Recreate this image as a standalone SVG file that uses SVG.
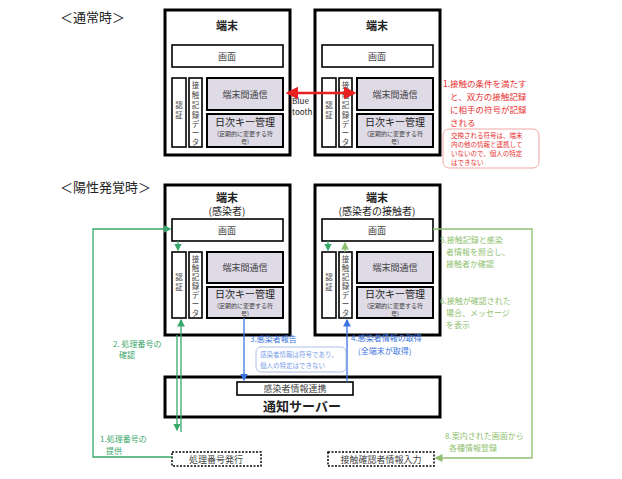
<svg xmlns="http://www.w3.org/2000/svg" width="622" height="479" viewBox="0 0 622 479">
<style>
text{font-family:"Noto Sans CJK JP","Noto Sans",sans-serif;fill:#222}
.term{fill:#fff;stroke:#000;stroke-width:3}
.in{fill:#fff;stroke:#000;stroke-width:1.6}
.gr{fill:#dedae6;stroke:#000;stroke-width:2}
.t9{font-size:9px;fill:#444}
.v{font-size:7.5px;fill:#444;text-anchor:middle}
.t7{font-size:6px;fill:#444}
.h{font-size:11px;font-weight:bold}
.hd{font-size:13px}
.red{fill:#e83030;font-size:8.5px}
.redS{fill:#e83030;font-size:6.5px}
.gl{fill:#3aa86a;font-size:8px}
.gr2{fill:#8fbf6f;font-size:8px}
.bl{fill:#3a74e0;font-size:8px}
.blS{fill:#7a9ee8;font-size:6.5px}
</style>
<defs>
<marker id="ag" markerWidth="6" markerHeight="6" refX="5" refY="3" orient="auto"><path d="M0,0L6,3L0,6z" fill="#3aa86a"/></marker>
<marker id="ag2" markerWidth="6" markerHeight="6" refX="5" refY="3" orient="auto"><path d="M0,0L6,3L0,6z" fill="#8fbf6f"/></marker>
<marker id="ab" markerWidth="6" markerHeight="6" refX="5" refY="3" orient="auto"><path d="M0,0L6,3L0,6z" fill="#3a74e0"/></marker>
<marker id="ar" markerWidth="5" markerHeight="5" refX="4" refY="2.5" orient="auto-start-reverse"><path d="M0,0L5,2.5L0,5z" fill="#e82020"/></marker>
</defs>
<text x="60" y="22" class="hd">＜通常時＞</text>
<text x="60" y="192" class="hd">＜陽性発覚時＞</text>

<g id="term1">
<rect x="165" y="10" width="125" height="145" class="term"/>
<text x="227" y="30" class="h" text-anchor="middle">端末</text>
<rect x="172" y="45" width="111" height="22" class="in"/><text x="227" y="60" class="t9" text-anchor="middle">画面</text>
<rect x="172" y="78" width="14" height="69" class="in"/><text x="179" y="108" class="v">認</text><text x="179" y="118" class="v">証</text>
<rect x="189" y="78" width="13" height="69" class="in"/><text x="195.5" y="88" class="v">接</text><text x="195.5" y="98" class="v">触</text><text x="195.5" y="108" class="v">記</text><text x="195.5" y="118" class="v">録</text><text x="195.5" y="127" class="v">デ</text><text x="195.5" y="136" class="v">ー</text><text x="195.5" y="145" class="v">タ</text>
<rect x="207" y="78" width="76" height="32" class="gr"/><text x="245" y="98" class="t9" text-anchor="middle">端末間通信</text>
<rect x="207" y="114" width="76" height="33" class="gr"/><text x="245" y="126" font-size="10" text-anchor="middle">日次キー管理</text><text x="245" y="136" class="t7" text-anchor="middle">(定期的に変更する符</text><text x="245" y="144" class="t7" text-anchor="middle">号)</text>
</g>
<g id="term2">
<rect x="315" y="10" width="125" height="145" class="term"/>
<text x="377" y="30" class="h" text-anchor="middle">端末</text>
<rect x="322" y="45" width="111" height="22" class="in"/><text x="377" y="60" class="t9" text-anchor="middle">画面</text>
<rect x="322" y="78" width="14" height="69" class="in"/><text x="329" y="108" class="v">認</text><text x="329" y="118" class="v">証</text>
<rect x="339" y="78" width="13" height="69" class="in"/><text x="345.5" y="88" class="v">接</text><text x="345.5" y="98" class="v">触</text><text x="345.5" y="108" class="v">記</text><text x="345.5" y="118" class="v">録</text><text x="345.5" y="127" class="v">デ</text><text x="345.5" y="136" class="v">ー</text><text x="345.5" y="145" class="v">タ</text>
<rect x="357" y="78" width="76" height="32" class="gr"/><text x="395" y="98" class="t9" text-anchor="middle">端末間通信</text>
<rect x="357" y="114" width="76" height="33" class="gr"/><text x="395" y="126" font-size="10" text-anchor="middle">日次キー管理</text><text x="395" y="136" class="t7" text-anchor="middle">(定期的に変更する符</text><text x="395" y="144" class="t7" text-anchor="middle">号)</text>
</g>
<g id="term3">
<rect x="165" y="185" width="125" height="150" class="term"/>
<text x="227" y="202" class="h" text-anchor="middle">端末</text>
<text x="227" y="215" font-size="10" text-anchor="middle">(感染者)</text>
<rect x="172" y="219" width="111" height="22" class="in"/><text x="227" y="234" class="t9" text-anchor="middle">画面</text>
<rect x="172" y="252" width="14" height="66" class="in"/><text x="179" y="280" class="v">認</text><text x="179" y="290" class="v">証</text>
<rect x="189" y="252" width="13" height="66" class="in"/><text x="195.5" y="262" class="v">接</text><text x="195.5" y="271" class="v">触</text><text x="195.5" y="280" class="v">記</text><text x="195.5" y="289" class="v">録</text><text x="195.5" y="298" class="v">デ</text><text x="195.5" y="307" class="v">ー</text><text x="195.5" y="316" class="v">タ</text>
<rect x="207" y="252" width="76" height="31" class="gr"/><text x="245" y="271" class="t9" text-anchor="middle">端末間通信</text>
<rect x="207" y="287" width="76" height="31" class="gr"/><text x="245" y="298" font-size="10" text-anchor="middle">日次キー管理</text><text x="245" y="308" class="t7" text-anchor="middle">(定期的に変更する符</text><text x="245" y="316" class="t7" text-anchor="middle">号)</text>
</g>
<g id="term4">
<rect x="315" y="185" width="125" height="150" class="term"/>
<text x="377" y="202" class="h" text-anchor="middle">端末</text>
<text x="377" y="215" font-size="10" text-anchor="middle">(感染者の接触者)</text>
<rect x="322" y="219" width="111" height="22" class="in"/><text x="377" y="234" class="t9" text-anchor="middle">画面</text>
<rect x="322" y="252" width="14" height="66" class="in"/><text x="329" y="280" class="v">認</text><text x="329" y="290" class="v">証</text>
<rect x="339" y="252" width="13" height="66" class="in"/><text x="345.5" y="262" class="v">接</text><text x="345.5" y="271" class="v">触</text><text x="345.5" y="280" class="v">記</text><text x="345.5" y="289" class="v">録</text><text x="345.5" y="298" class="v">デ</text><text x="345.5" y="307" class="v">ー</text><text x="345.5" y="316" class="v">タ</text>
<rect x="357" y="252" width="76" height="31" class="gr"/><text x="395" y="271" class="t9" text-anchor="middle">端末間通信</text>
<rect x="357" y="287" width="76" height="31" class="gr"/><text x="395" y="298" font-size="10" text-anchor="middle">日次キー管理</text><text x="395" y="308" class="t7" text-anchor="middle">(定期的に変更する符</text><text x="395" y="316" class="t7" text-anchor="middle">号)</text>
</g>
<g id="server">
<rect x="165" y="377" width="275" height="40" class="term"/>
<rect x="237" y="382" width="116" height="13" class="in"/><text x="295" y="392" class="t9" text-anchor="middle">感染者情報連携</text>
<text x="302" y="411" font-size="13" font-weight="bold" text-anchor="middle">通知サーバー</text>
</g>
<g id="issue"><rect x="172" y="452" width="89" height="14" fill="#fff" stroke="#000" stroke-width="1.5" stroke-dasharray="2,1.5"/><text x="216" y="463" class="t9" text-anchor="middle">処理番号発行</text></g>
<g id="input"><rect x="328" y="452" width="106" height="14" fill="#fff" stroke="#000" stroke-width="1.5" stroke-dasharray="2,1.5"/><text x="381" y="463" class="t9" text-anchor="middle">接触確認者情報入力</text></g>

<g id="connectors" fill="none">
<line x1="288" y1="93" x2="354" y2="93" stroke="#e82020" stroke-width="2.5" marker-start="url(#ar)" marker-end="url(#ar)"/>
<polyline points="172,457 93,457 93,229 170,229" stroke="#3aa86a" stroke-width="1.3" marker-end="url(#ag)"/>
<line x1="178" y1="241" x2="178" y2="250" stroke="#3aa86a" stroke-width="1.3" marker-end="url(#ag)"/>
<line x1="177" y1="335" x2="177" y2="430" stroke="#3aa86a" stroke-width="1.3" marker-end="url(#ag)"/>
<line x1="181" y1="432" x2="181" y2="320" stroke="#3aa86a" stroke-width="1.3" marker-end="url(#ag)"/>
<line x1="244" y1="318" x2="244" y2="380" stroke="#3a74e0" stroke-width="1.3" marker-end="url(#ab)"/>
<line x1="347" y1="382" x2="347" y2="320" stroke="#3a74e0" stroke-width="1.3" marker-end="url(#ab)"/>
<line x1="328" y1="241" x2="328" y2="250" stroke="#3aa86a" stroke-width="1.3" marker-end="url(#ag)"/>
<line x1="345" y1="252" x2="345" y2="243" stroke="#8fbf6f" stroke-width="1.3" marker-end="url(#ag2)"/>
<polyline points="433,229 532,229 532,458 436,458" stroke="#8fbf6f" stroke-width="1.3" marker-end="url(#ag2)"/>
</g>

<text x="292" y="104" font-size="8">Blue</text>
<text x="292" y="115" font-size="8">tooth</text>
<text x="443" y="87" class="red">1.接触の条件を満たす</text>
<text x="450" y="100" class="red">と、双方の接触記録</text>
<text x="450" y="113" class="red">に相手の符号が記録</text>
<text x="450" y="126" class="red">される</text>
<rect x="443" y="129" width="96" height="39" rx="6" fill="none" stroke="#f09090" stroke-width="0.8"/>
<text x="451" y="138" class="redS">交換される符号は、端末</text>
<text x="451" y="147" class="redS">内の他の情報と連携して</text>
<text x="451" y="156" class="redS">いないので、個人の特定</text>
<text x="451" y="165" class="redS">はできない</text>

<text x="113" y="347" class="gl">2. 処理番号の</text>
<text x="119" y="358" class="gl">確認</text>
<text x="100" y="442" class="gl">1.処理番号の</text>
<text x="106" y="454" class="gl">提供</text>
<text x="250" y="342" class="bl">3.感染者報告</text>
<rect x="256" y="347" width="90" height="25" rx="5" fill="none" stroke="#9ab0e0" stroke-width="0.8"/>
<text x="260" y="357" class="blS">感染者情報は符号であり、</text>
<text x="260" y="368" class="blS">個人の特定はできない</text>
<text x="351" y="341" class="bl">4.感染者情報の取得</text>
<text x="358" y="354" class="bl">(全端末が取得)</text>
<text x="440" y="243" class="gr2">5.接触記録と感染</text>
<text x="446" y="255" class="gr2">者情報を照合し、</text>
<text x="446" y="267" class="gr2">接触者か確認</text>
<text x="440" y="304" class="gr2">6.接触が確認された</text>
<text x="446" y="316" class="gr2">場合、メッセージ</text>
<text x="446" y="328" class="gr2">を表示</text>
<text x="445" y="439" class="gr2">8.案内された画面から</text>
<text x="449" y="451" class="gr2">各種情報登録</text>
</svg>
